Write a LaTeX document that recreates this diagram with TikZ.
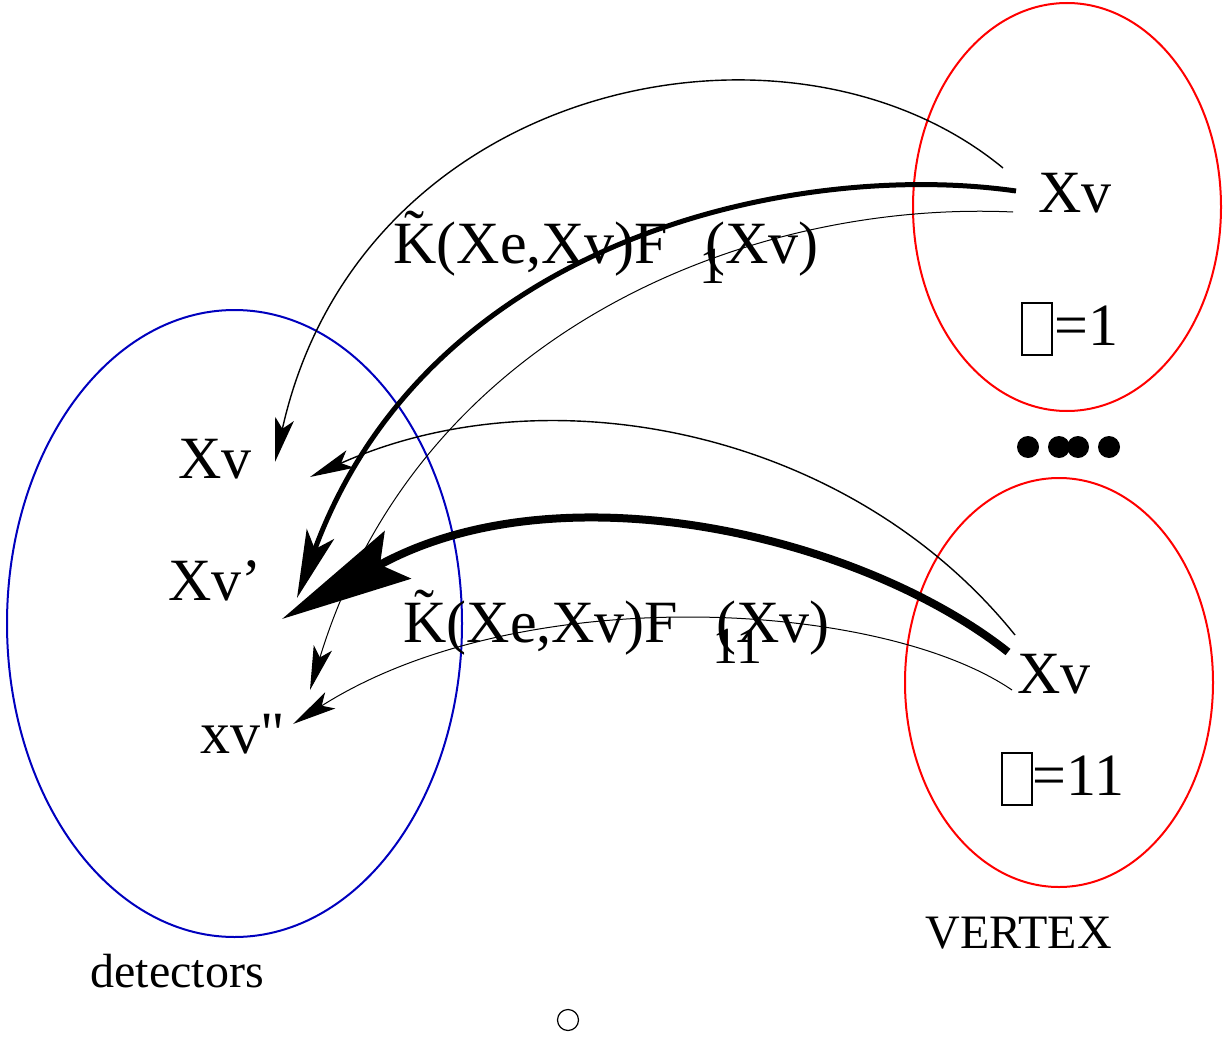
\documentclass[tikz,border=0pt]{standalone}
\usepackage{fontspec}
\setmainfont{Liberation Serif}
\newfontfamily\rawfont{Liberation Serif}[Ligatures=TeXOff]
\usepackage{tikz}
\usetikzlibrary{arrows.meta,shapes.geometric}
\definecolor{detbleu}{RGB}{0,0,190}
\tikzset{
  lbl/.style={inner sep=0pt, anchor=base west, font=\fontsize{30}{36}\selectfont},
  indice/.style={inner sep=0pt, anchor=base west, font=\fontsize{26}{30}\selectfont},
  legende/.style={inner sep=0pt, anchor=base west, font=\fontsize{24}{28}\selectfont},
  zone/.style={ellipse, draw=#1, line width=1pt, inner sep=0pt},
  glyphe/.style={rectangle, draw, line width=1.2pt, minimum width=15pt,
                 minimum height=26pt, inner sep=0pt},
  point/.style={circle, fill, inner sep=0pt, minimum size=11pt},
  fin/.style={-{Stealth[length=22pt, width=9.5pt, inset=5pt]}, line width=#1},
  fin/.default=0.7pt,
  gros/.style={-{Stealth[length=34pt, width=14.5pt, inset=8pt]}, line width=2.5pt},
  enorme/.style={-{Stealth[length=66pt, width=27pt, inset=10pt]}, line width=4pt},
}

\begin{document}
\begin{tikzpicture}[x=0.5pt, y=-0.5pt]
    \useasboundingbox (0,0) rectangle (1231,1038);
    \node[zone=detbleu, minimum width=227.5pt, minimum height=313.5pt] (det) at (234.5,623.5) {};
    \node[zone=red, minimum width=154pt, minimum height=204pt] (vh) at (1067,207) {};
    \node[zone=red, minimum width=154pt, minimum height=204.5pt] (vb) at (1059,682.5) {};
    \foreach \x/\n in {1028/p1, 1059/p2, 1078/p3, 1109/p4}
      \node[point] (\n) at (\x,447) {};
    \coordinate (s1) at (1003,168); \coordinate (e1) at (275,462);
    \coordinate (s2) at (1016,191); \coordinate (e2) at (297,598);
    \coordinate (s3) at (1013,212); \coordinate (e3) at (310,690);
    \coordinate (s4) at (1015,635); \coordinate (e4) at (310,477);
    \coordinate (s5) at (1008,652); \coordinate (e5) at (282,619);
    \coordinate (s6) at (1012,690); \coordinate (e6) at (293,724);
    \draw[fin] (s1) .. controls (790,-8) and (360,80) .. (e1);
    \draw[gros] (s2) .. controls (800,160) and (430,235) .. (e2);
    \draw[fin=0.5pt] (s3) .. controls (750,200) and (420,330) .. (e3);
    \draw[fin] (s4) .. controls (850,430) and (550,370) .. (e4);
    \draw[enorme] (s5) .. controls (860,535) and (560,465) .. (e5);
    \draw[fin=0.5pt] (s6) .. controls (880,600) and (520,580) .. (e6);
    \node[lbl] (xh) at (1038,212) {Xv};
    \node[glyphe] (gh) at (1037,329) {};
    \node[lbl] (nh) at (1054,345) {=1};
    \node[lbl] (xb) at (1017,693) {Xv};
    \node[glyphe] (gb) at (1017,779) {};
    \node[lbl] (nb) at (1032,795) {=11};
    \node[legende] (vtx) at (925,948) {VERTEX};
    \node[legende] (dtc) at (90,987) {detectors};
    \node[lbl] (d1) at (178,478) {Xv};
    \node[lbl] (d2) at (168,600) {Xv'};
    \node[lbl] (d3) at (200,753) {\rawfont xv"};
    \node[lbl] (kh) at (393,263) {\~{K}(Xe,Xv)F};
    \node[lbl] (fh) at (705,263) {(Xv)};
    \node[indice] (ih) at (699,283) {1};
    \node[lbl] (kb) at (403,642) {\~{K}(Xe,Xv)F};
    \node[lbl] (fb) at (716,642) {(Xv)};
    \node[indice] (ib) at (712,663) {11};
    \node[circle, draw, line width=0.6pt, minimum size=10.5pt, inner sep=0pt] (o) at (568,1020) {};
  \end{tikzpicture}
\end{document}
